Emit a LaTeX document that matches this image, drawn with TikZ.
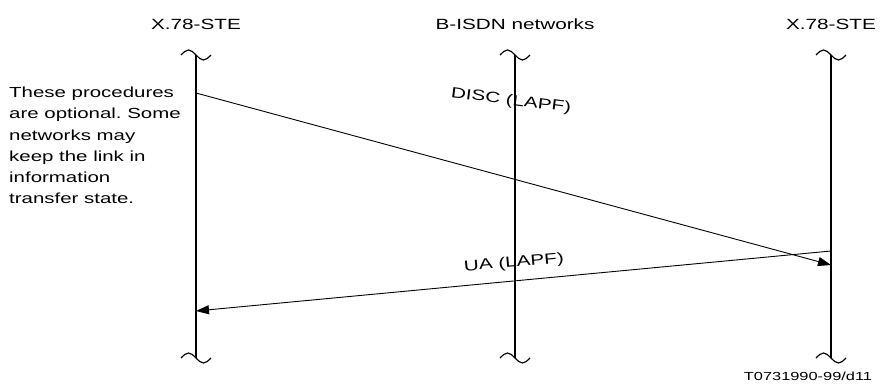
\documentclass[tikz,border=0pt]{standalone}
\usepackage{fontspec}
\setmainfont{Liberation Sans}[FakeStretch=1.4]
\usetikzlibrary{arrows.meta}
\frenchspacing
\begin{document}
\begin{tikzpicture}[x=1pt,y=-1pt,
  lbl/.style={font=\fontsize{14.8}{21}\selectfont, inner sep=0pt},
  notelbl/.style={font=\fontsize{14.6}{21.2}\selectfont\frenchspacing, inner sep=0pt},
  smalllbl/.style={font=\fontsize{11.7}{15}\selectfont, inner sep=0pt},
  lifeline/.style={line width=1.8pt},
  tildeline/.style={line width=1.2pt},
  msg/.style={line width=0.9pt, -{Triangle[length=13pt,width=9pt]}}]
\useasboundingbox (0,0) rectangle (881,387);
% headers
\node[lbl, anchor=base] (hA) at (196,30) {X.78-STE};
\node[lbl, anchor=base] (hB) at (515,30) {B-ISDN networks};
\node[lbl, anchor=base] (hC) at (831,30) {X.78-STE};
% lifelines with break marks
\foreach \x/\n in {196/A, 515/B, 831/C}{
  \coordinate (top\n) at (\x,55);
  \coordinate (bot\n) at (\x,358);
  \draw[lifeline] (top\n) -- (bot\n);
  \draw[tildeline] (\x-15,55) sin (\x-7.5,50) cos (\x,55) sin (\x+7.5,60) cos (\x+15,55);
  \draw[tildeline] (\x-15,358) sin (\x-7.5,353) cos (\x,358) sin (\x+7.5,363) cos (\x+15,358);
}
% message end points
\coordinate (discS) at (196,93);
\coordinate (discE) at (831,265);
\coordinate (uaS) at (831,251);
\coordinate (uaE) at (196,311);
\draw[msg] (discS) -- (discE);
\draw[msg] (uaS) -- (uaE);
\node[lbl, rotate=-7] (discL) at (511,101) {DISC (LAPF)};
\node[lbl, rotate=5] (uaL) at (514,263) {UA (LAPF)};
% note
\node[notelbl, anchor=north west, align=left] (note) at (9,87)
  {These procedures\\are optional. Some\\networks may\\keep the link in\\information\\transfer state.};
\node[smalllbl, anchor=base] (ref) at (808,381) {T0731990-99/d11};
\end{tikzpicture}
\end{document}
